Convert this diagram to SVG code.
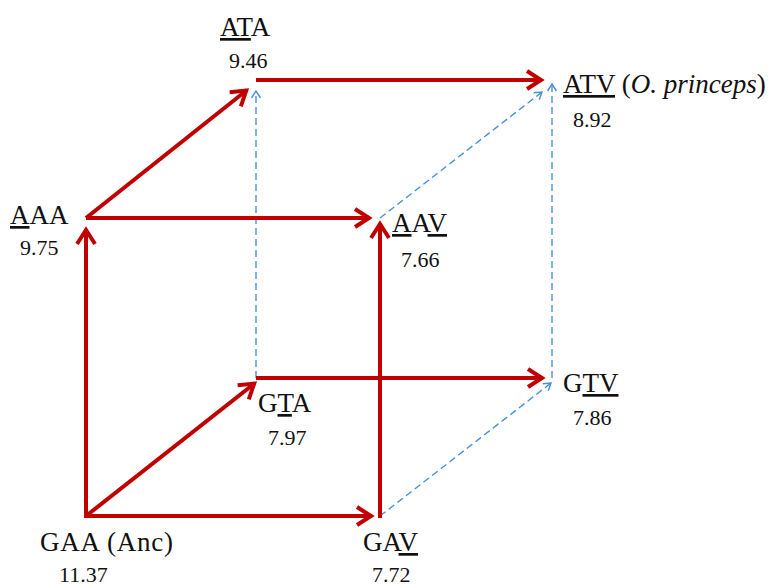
<svg xmlns="http://www.w3.org/2000/svg" width="780" height="586" viewBox="0 0 780 586">
<defs>
<style>
.lbl{font-family:'Liberation Serif','Tinos','Times New Roman','DejaVu Serif',serif;font-size:27px;fill:#111}
.num{font-family:'Liberation Serif','Tinos','Times New Roman','DejaVu Serif',serif;font-size:22px;fill:#111}
.u{text-decoration:underline}
.red{stroke:#C00000;stroke-width:4;fill:none;marker-end:url(#ar)}
.blue{stroke:#4790D8;stroke-width:1.4;fill:none;stroke-dasharray:7 4;marker-end:url(#ab)}
</style>
<marker id="ar" markerUnits="userSpaceOnUse" viewBox="0 0 24 24" markerWidth="24" markerHeight="24" refX="20" refY="12" orient="auto">
<path d="M5,3 L19,12 L5,21" fill="none" stroke="#C00000" stroke-width="4"/>
</marker>
<marker id="ab" markerUnits="userSpaceOnUse" viewBox="0 0 14 14" markerWidth="14" markerHeight="14" refX="12" refY="7" orient="auto">
<path d="M5,2.5 L12,7 L5,11.5" fill="none" stroke="#4790D8" stroke-width="1.4"/>
</marker>
</defs>
<rect width="780" height="586" fill="#fff"/>
<g id="connectors">
<line class="blue" x1="256" y1="378" x2="256" y2="91"/>
<line class="blue" x1="380" y1="218" x2="542" y2="92"/>
<line class="blue" x1="552" y1="378" x2="552" y2="84"/>
<line class="blue" x1="380" y1="516" x2="551" y2="383"/>
<line class="red" x1="86" y1="518" x2="86" y2="229"/>
<line class="red" x1="86" y1="516" x2="255" y2="383"/>
<line class="red" x1="86" y1="516" x2="372" y2="516"/>
<line class="red" x1="380" y1="518" x2="380" y2="223"/>
<line class="red" x1="86" y1="218" x2="247" y2="90"/>
<line class="red" x1="86" y1="218" x2="370" y2="218"/>
<line class="red" x1="256" y1="80" x2="542" y2="80"/>
<line class="red" x1="256" y1="378" x2="543" y2="378"/>
</g>
<g id="GAA"><text class="lbl" x="40" y="551" textLength="133" lengthAdjust="spacing">GAA (Anc)</text><text class="num" x="59" y="582">11.37</text></g>
<g id="AAA"><text class="lbl" x="10" y="224"><tspan class="u">A</tspan>AA</text><text class="num" x="20" y="255">9.75</text></g>
<g id="ATA"><text class="lbl" x="220" y="36"><tspan class="u">AT</tspan>A</text><text class="num" x="229" y="68">9.46</text></g>
<g id="AAV"><text class="lbl" x="392" y="232"><tspan class="u">A</tspan>A<tspan class="u">V</tspan></text><text class="num" x="401" y="267">7.66</text></g>
<g id="GTA"><text class="lbl" x="258" y="412">G<tspan class="u">T</tspan>A</text><text class="num" x="268" y="445">7.97</text></g>
<g id="GAV"><text class="lbl" x="363" y="551">GA<tspan class="u">V</tspan></text><text class="num" x="372" y="582">7.72</text></g>
<g id="GTV"><text class="lbl" x="563" y="392">G<tspan class="u">TV</tspan></text><text class="num" x="573" y="425">7.86</text></g>
<g id="ATV"><text class="lbl" x="563" y="93"><tspan class="u">ATV</tspan> (<tspan font-style="italic">O. princeps</tspan>)</text><text class="num" x="573" y="127">8.92</text></g>
</svg>
